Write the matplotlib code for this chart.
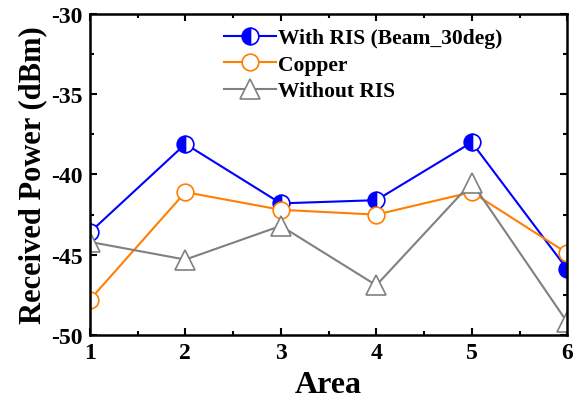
import matplotlib
matplotlib.use('Agg')
import matplotlib.pyplot as plt
from matplotlib.ticker import MultipleLocator

plt.rcParams['font.family'] = ['Liberation Serif', 'DejaVu Serif']
plt.rcParams['font.weight'] = 'bold'
plt.rcParams['axes.unicode_minus'] = False

area = [1, 2, 3, 4, 5, 6]
with_ris = [-43.6, -38.1, -41.8, -41.6, -38.0, -45.9]
copper = [-47.8, -41.1, -42.2, -42.5, -41.1, -44.9]
without_ris = [-44.2, -45.3, -43.2, -46.9, -40.5, -49.2]

fig = plt.figure(figsize=(5.8, 4.02), dpi=100)
ax = fig.add_axes([0.155, 0.164, 0.823, 0.799])

ax.plot(area, with_ris, color='#0000FF', lw=1.5, marker='o', ms=12,
        fillstyle='left', markerfacecolor='#0000FF', markerfacecoloralt='white',
        markeredgecolor='#0000FF', markeredgewidth=1.2, label='With RIS (Beam_30deg)')
ax.plot(area, copper, color='#FF7F00', lw=1.5, marker='o', ms=12,
        markerfacecolor='white', markeredgecolor='#FF7F00', markeredgewidth=1.2,
        label='Copper')
ax.plot(area, without_ris, color='#808080', lw=1.5, marker='^', ms=14,
        markerfacecolor='white', markeredgecolor='#808080', markeredgewidth=1.2,
        label='Without RIS')

ax.set_xlim(1, 6)
ax.set_ylim(-50, -30)
ax.xaxis.set_major_locator(MultipleLocator(1))
ax.xaxis.set_minor_locator(MultipleLocator(0.5))
ax.yaxis.set_major_locator(MultipleLocator(5))
ax.yaxis.set_minor_locator(MultipleLocator(2.5))
ax.tick_params(which='both', direction='in', top=True, right=True, width=1.5)
ax.tick_params(which='major', length=5, labelsize=17, pad=5)
ax.tick_params(which='minor', length=3)
for sp in ax.spines.values():
    sp.set_linewidth(1.8)

ax.set_xlabel('Area', fontsize=23, fontweight='bold', labelpad=5)
ax.set_ylabel('Received Power (dBm)', fontsize=22, fontweight='bold', labelpad=3)

ax.legend(loc='upper left', bbox_to_anchor=(0.25, 1.003), frameon=False,
          fontsize=15.5, handlelength=2.4, handletextpad=0.1, labelspacing=0.3,
          borderaxespad=0.3)

fig.savefig('out.png', dpi=100)
